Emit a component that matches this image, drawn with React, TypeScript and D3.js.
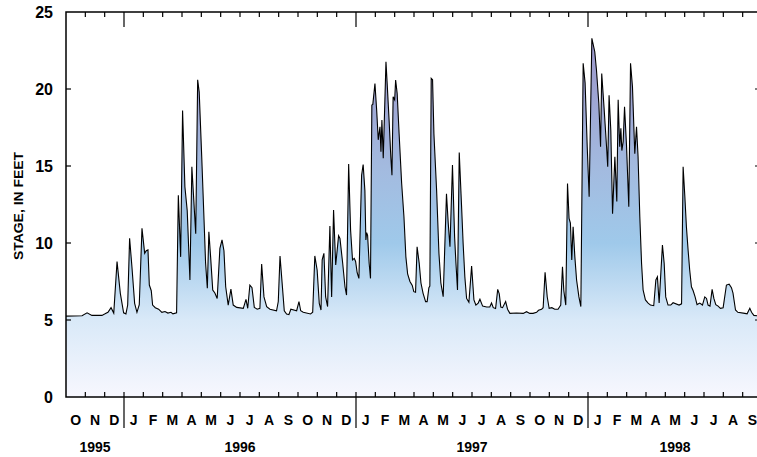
import React, { useEffect, useRef } from 'react';
import * as d3 from 'd3';

// Stage record, Oct 1995 - Sep 1998. monthPos = months since 1 Oct 1995
const monthPos = [
  0.0, 0.83, 1.09, 1.34, 1.86, 2.02, 2.17, 2.33, 2.47, 2.64, 2.81, 2.98, 3.1, 3.19, 3.29, 3.41, 3.55, 3.67, 3.79, 3.93,
  4.07, 4.15, 4.24, 4.31, 4.41, 4.48, 4.62, 4.79, 4.96, 5.12, 5.27, 5.43, 5.53, 5.72, 5.81, 5.93, 6.03, 6.15, 6.27, 6.41,
  6.51, 6.71, 6.81, 6.89, 7.02, 7.14, 7.22, 7.31, 7.39, 7.48, 7.59, 7.7, 7.82, 7.96, 8.07, 8.17, 8.26, 8.39, 8.53, 8.65,
  8.83, 9.17, 9.31, 9.4, 9.51, 9.62, 9.74, 9.89, 10.03, 10.12, 10.24, 10.38, 10.55, 10.89, 10.98, 11.07, 11.18, 11.29, 11.41, 11.53,
  11.63, 11.93, 12.05, 12.14, 12.27, 12.65, 12.76, 12.87, 12.99, 13.1, 13.19, 13.25, 13.34, 13.43, 13.53, 13.65, 13.74, 13.84, 13.95, 14.1,
  14.17, 14.31, 14.43, 14.51, 14.62, 14.72, 14.82, 14.91, 14.98, 15.06, 15.15, 15.29, 15.37, 15.46, 15.51, 15.55, 15.6, 15.68, 15.75, 15.82,
  15.87, 15.98, 16.07, 16.15, 16.24, 16.29, 16.34, 16.41, 16.55, 16.61, 16.72, 16.8, 16.86, 16.92, 17.0, 17.05, 17.13, 17.23, 17.36, 17.48,
  17.58, 17.67, 17.79, 17.91, 17.99, 18.08, 18.16, 18.27, 18.36, 18.47, 18.6, 18.68, 18.77, 18.82, 18.89, 18.96, 19.03, 19.17, 19.29, 19.39,
  19.51, 19.68, 19.77, 19.86, 19.99, 20.1, 20.17, 20.25, 20.34, 20.46, 20.54, 20.63, 20.72, 20.84, 20.98, 21.1, 21.2, 21.32, 21.41, 21.55,
  21.76, 21.92, 22.01, 22.1, 22.22, 22.33, 22.41, 22.49, 22.58, 22.74, 22.84, 22.96, 23.3, 23.65, 23.82, 23.99, 24.16, 24.34, 24.44, 24.6,
  24.68, 24.78, 24.89, 24.99, 25.13, 25.28, 25.45, 25.59, 25.68, 25.75, 25.85, 25.94, 26.02, 26.09, 26.16, 26.23, 26.32, 26.41, 26.53, 26.63,
  26.75, 26.85, 26.96, 27.06, 27.2, 27.35, 27.44, 27.56, 27.65, 27.71, 27.83, 27.96, 28.02, 28.09, 28.18, 28.27, 28.39, 28.49, 28.56, 28.64,
  28.7, 28.75, 28.82, 28.89, 28.99, 29.11, 29.2, 29.3, 29.42, 29.51, 29.59, 29.68, 29.77, 29.85, 29.97, 30.11, 30.23, 30.4, 30.51, 30.59,
  30.68, 30.85, 30.94, 31.02, 31.14, 31.28, 31.4, 31.71, 31.84, 31.92, 32.01, 32.09, 32.18, 32.26, 32.35, 32.44, 32.54, 32.64, 32.78, 32.92,
  33.04, 33.13, 33.21, 33.31, 33.42, 33.51, 33.61, 33.73, 33.85, 33.99, 34.16, 34.3, 34.42, 34.5, 34.63, 34.75, 35.11, 35.23, 35.37, 35.46,
  35.58, 35.72, 36.0,
];

const stage = [
  5.25, 5.28, 5.47, 5.3, 5.3, 5.4, 5.5, 5.8, 5.45, 8.79, 6.73, 5.47, 5.4, 5.97, 10.3, 8.46, 6.08, 5.5, 6.0, 10.95,
  9.33, 9.5, 9.55, 7.27, 6.9, 5.97, 5.8, 5.7, 5.5, 5.55, 5.45, 5.5, 5.4, 5.47, 13.1, 9.1, 18.6, 13.65, 12.1, 7.6,
  14.95, 10.6, 20.6, 19.8, 15.6, 11.5, 8.7, 7.06, 10.73, 9.1, 6.95, 6.75, 6.4, 9.65, 10.2, 9.5, 7.16, 5.97, 7.0, 5.97,
  5.82, 5.76, 6.34, 5.76, 7.27, 7.1, 5.82, 5.7, 5.76, 8.63, 6.5, 5.87, 5.7, 5.6, 6.2, 9.16, 7.38, 5.6, 5.39, 5.35,
  5.7, 5.6, 6.19, 5.6, 5.5, 5.39, 5.5, 9.16, 8.25, 6.08, 5.65, 8.9, 9.33, 6.5, 5.87, 11.1, 6.5, 12.14, 8.57, 10.47,
  10.3, 8.7, 7.16, 6.62, 15.13, 10.84, 8.9, 9.0, 8.8, 8.07, 7.7, 14.4, 15.1, 13.4, 10.2, 10.67, 10.5, 8.68, 7.7, 18.96,
  19.0, 20.36, 18.6, 16.7, 17.55, 15.93, 17.99, 15.5, 21.77, 20.4, 17.77, 15.6, 14.4, 19.5, 19.3, 20.58, 19.7, 17.1, 13.9, 11.7,
  9.1, 8.0, 7.5, 7.25, 6.84, 6.8, 9.76, 8.68, 7.4, 6.73, 6.19, 6.19, 7.1, 7.2, 20.69, 20.6, 17.1, 13.4, 9.33, 7.4,
  6.51, 13.2, 11.3, 9.76, 15.06, 10.4, 8.68, 6.95, 15.87, 12.4, 10.0, 7.8, 6.4, 6.15, 8.5, 6.3, 5.97, 6.1, 6.35, 5.9,
  5.84, 5.84, 6.1, 5.8, 5.75, 6.99, 6.7, 5.84, 5.8, 6.2, 5.7, 5.43, 5.45, 5.43, 5.54, 5.43, 5.43, 5.5, 5.63, 5.7,
  5.8, 8.1, 6.51, 5.76, 5.8, 5.7, 5.7, 5.97, 8.46, 6.9, 5.97, 13.87, 11.6, 11.3, 8.9, 11.06, 9.1, 7.6, 6.5, 5.87,
  21.67, 20.4, 16.25, 13.0, 23.29, 22.42, 21.2, 19.07, 16.25, 21.0, 18.8, 16.25, 14.95, 19.6, 17.3, 11.9, 15.6, 12.7, 19.3, 16.25,
  17.45, 16.0, 16.6, 18.85, 16.4, 12.36, 21.67, 20.15, 15.8, 17.55, 15.6, 11.7, 8.68, 6.95, 6.3, 6.1, 5.97, 5.93, 7.6, 7.8,
  6.1, 9.87, 8.68, 6.5, 5.97, 5.97, 6.12, 5.97, 6.05, 14.95, 13.0, 11.06, 9.5, 8.25, 7.16, 6.9, 6.5, 6.0, 6.1, 5.97,
  6.5, 6.4, 5.97, 5.9, 6.99, 6.4, 6.0, 5.9, 5.76, 5.8, 7.27, 7.33, 7.1, 6.75, 5.65, 5.5, 5.43, 5.4, 5.76, 5.5,
  5.3, 5.28, 5.3,
];

const monthLabels = ['O', 'N', 'D', 'J', 'F', 'M', 'A', 'M', 'J', 'J', 'A', 'S'];
const yearLabels = ['1995', '1996', '1997', '1998'];
const yearStarts = [0, 3, 15, 27];
const yearEnds = [3, 15, 27, 36];
const stageTicks = [0, 5, 10, 15, 20, 25];

const W = 757;
const H = 457;
const FONT = '"Liberation Sans", Arial, Helvetica, sans-serif';

const App = () => {
  const svgRef = useRef(null);

  useEffect(() => {
    const svg = d3.select(svgRef.current);
    svg.selectAll('*').remove();

    const x = d3.scaleLinear().domain([0, 36]).range([66, 762]);
    const y = d3.scaleLinear().domain([0, 25]).range([397, 12]);

    const data = monthPos.map((m, i) => ({ m, v: stage[i] }));

    // gradient fill, tied to stage values
    const grad = svg.append('defs').append('linearGradient')
      .attr('id', 'stageFill')
      .attr('gradientUnits', 'userSpaceOnUse')
      .attr('x1', 0).attr('x2', 0)
      .attr('y1', y(0)).attr('y2', y(25));
    [
      [0, '#f7f7fe'],
      [0.2, '#d9e9f8'],
      [0.4, '#9fc9ea'],
      [0.6, '#a3badf'],
      [0.8, '#9ea3d2'],
      [1, '#9a90c6'],
    ].forEach(([o, c]) => grad.append('stop').attr('offset', o).attr('stop-color', c));

    const area = d3.area()
      .x(d => x(d.m))
      .y0(y(0))
      .y1(d => y(d.v));

    const line = d3.line()
      .x(d => x(d.m))
      .y(d => y(d.v));

    svg.append('path')
      .datum(data)
      .attr('d', area)
      .attr('fill', 'url(#stageFill)');

    svg.append('path')
      .datum(data)
      .attr('d', line)
      .attr('fill', 'none')
      .attr('stroke', '#000')
      .attr('stroke-width', 1.1)
      .attr('stroke-linejoin', 'miter');

    // frame
    svg.append('rect')
      .attr('x', x(0))
      .attr('y', y(25))
      .attr('width', x(36) - x(0))
      .attr('height', y(0) - y(25))
      .attr('fill', 'none')
      .attr('stroke', '#000')
      .attr('stroke-width', 1.5);

    // month ticks, top and bottom, inward; January ticks longer
    const months = d3.range(1, 36);
    svg.append('g').selectAll('line')
      .data(months)
      .join('line')
      .attr('x1', d => x(d)).attr('x2', d => x(d))
      .attr('y1', y(25))
      .attr('y2', d => y(25) + (d % 12 === 3 ? 15 : 5))
      .attr('stroke', '#000').attr('stroke-width', 1.2);
    svg.append('g').selectAll('line')
      .data(months)
      .join('line')
      .attr('x1', d => x(d)).attr('x2', d => x(d))
      .attr('y1', d => (d % 12 === 3 ? y(0) + 31 : y(0)))
      .attr('y2', y(0) - 5)
      .attr('stroke', '#000').attr('stroke-width', 1.2);

    // stage ticks, left and right, inward
    svg.append('g').selectAll('line')
      .data(stageTicks.slice(1, -1))
      .join('line')
      .attr('x1', x(0)).attr('x2', x(0) + 5)
      .attr('y1', d => y(d)).attr('y2', d => y(d))
      .attr('stroke', '#000').attr('stroke-width', 1.2);
    svg.append('g').selectAll('line')
      .data(stageTicks.slice(1, -1))
      .join('line')
      .attr('x1', x(36)).attr('x2', x(36) - 7)
      .attr('y1', d => y(d)).attr('y2', d => y(d))
      .attr('stroke', '#000').attr('stroke-width', 1.2);

    // stage labels
    svg.append('g').selectAll('text')
      .data(stageTicks)
      .join('text')
      .attr('x', 53)
      .attr('y', d => y(d) + 6)
      .attr('text-anchor', 'end')
      .style('font-family', FONT)
      .style('font-weight', 'bold')
      .style('font-size', '16px')
      .text(d => d);

    // month labels
    svg.append('g').selectAll('text')
      .data(d3.range(36))
      .join('text')
      .attr('x', d => x(d + 0.5))
      .attr('y', 425)
      .attr('text-anchor', 'middle')
      .style('font-family', FONT)
      .style('font-weight', 'bold')
      .style('font-size', '14px')
      .text(d => monthLabels[d % 12]);

    // year labels
    svg.append('g').selectAll('text')
      .data(yearLabels)
      .join('text')
      .attr('x', (d, i) => (x(yearStarts[i]) + x(yearEnds[i])) / 2)
      .attr('y', 452)
      .attr('text-anchor', 'middle')
      .style('font-family', FONT)
      .style('font-weight', 'bold')
      .style('font-size', '14px')
      .text(d => d);

    // axis title
    svg.append('text')
      .attr('transform', 'translate(23,206) rotate(-90)')
      .attr('text-anchor', 'middle')
      .attr('textLength', 108)
      .attr('lengthAdjust', 'spacingAndGlyphs')
      .style('font-family', FONT)
      .style('font-weight', 'bold')
      .style('font-size', '13px')
      .text('STAGE, IN FEET');
  }, []);

  return (
    <svg
      ref={svgRef}
      width={W}
      height={H}
      style={{ position: 'absolute', left: 0, top: 0, display: 'block', background: '#fff' }}
    />
  );
};

export default App;
